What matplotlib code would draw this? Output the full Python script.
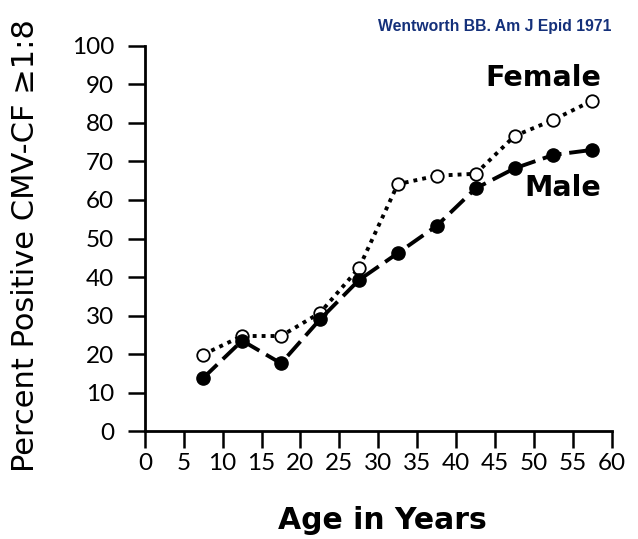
import matplotlib
matplotlib.use('Agg')
import matplotlib.pyplot as plt

age = [7.5, 12.5, 17.5, 22.5, 27.5, 32.5, 37.5, 42.5, 47.5, 52.5, 57.5]
female = [19.9, 24.7, 24.7, 30.7, 42.3, 64.1, 66.3, 66.8, 76.6, 80.8, 85.8]
male = [13.8, 23.5, 17.6, 29.0, 39.2, 46.2, 53.3, 63.0, 68.2, 71.7, 73.0]

plt.rcParams['font.family'] = ['Lato', 'DejaVu Sans']

fig = plt.figure(figsize=(6.38, 5.39), dpi=100)
ax = fig.add_axes([0.227, 0.200, 0.732, 0.715])

ax.plot(age, female, linestyle=(0, (1, 1.3)), linewidth=2.8, color='black',
        marker='o', markersize=9, markerfacecolor='white', markeredgewidth=1.3,
        markeredgecolor='black')
ax.plot(age, male, linestyle=(0, (5, 2)), linewidth=2.8, color='black',
        marker='o', markersize=9.5, markerfacecolor='black')

ax.set_xlim(0, 60)
ax.set_ylim(0, 100)
ax.set_xticks(range(0, 61, 5))
ax.set_yticks(range(0, 101, 10))
ax.tick_params(direction='out', length=12, width=1.8, labelsize=17.5)
ax.tick_params(axis='x', pad=4)
ax.tick_params(axis='y', pad=10)
for s in ['top', 'right']:
    ax.spines[s].set_visible(False)
for s in ['left', 'bottom']:
    ax.spines[s].set_linewidth(2)

ax.text(58.6, 91.7, 'Female', ha='right', va='center', fontsize=20.5,
        fontweight='bold', family='DejaVu Sans')
ax.text(58.6, 63.1, 'Male', ha='right', va='center', fontsize=20.5,
        fontweight='bold', family='DejaVu Sans')

fig.text(0.6, 0.035, 'Age in Years', ha='center', va='center', fontsize=21.5,
         fontweight='bold', family='DejaVu Sans')
fig.text(0.04, 0.545, 'Percent Positive CMV-CF \u22651:8', ha='center', va='center',
         rotation=90, fontsize=22, family='DejaVu Sans')

fig.text(0.959, 0.95, 'Wentworth BB. Am J Epid 1971', ha='right', va='center',
         fontsize=11.3, fontweight='bold', color='#14307a', family='Liberation Sans')

fig.savefig('out.png', dpi=100)
